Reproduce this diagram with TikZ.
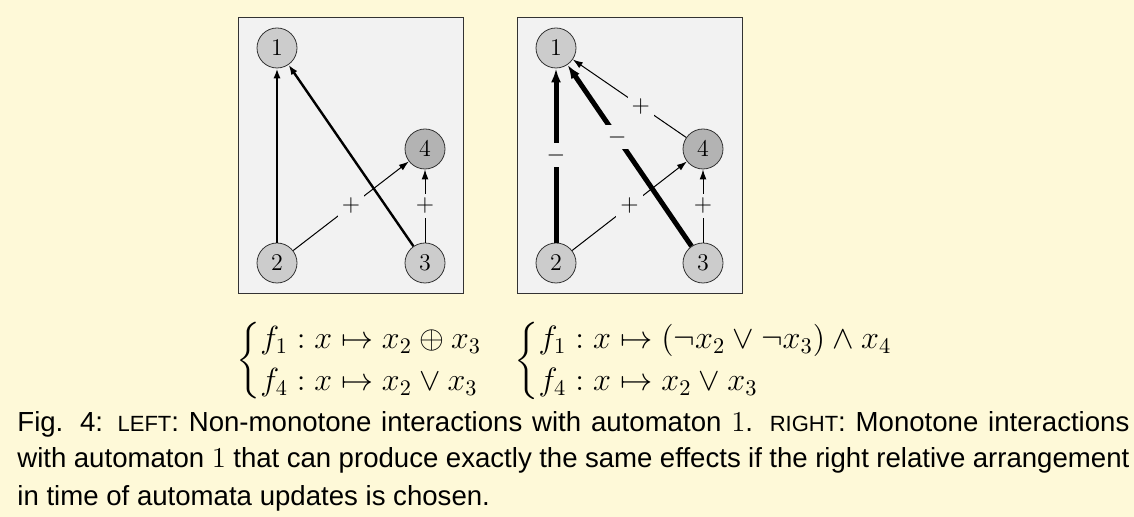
\documentclass[tikz,border=0pt]{standalone}
\usepackage{amsmath}
\usepackage{graphicx}
\usepackage{fontspec}
\setmainfont{Liberation Sans}
\usetikzlibrary{arrows.meta}
\definecolor{PaperYellow}{HTML}{FEF9D8}
\definecolor{BoxGray}{HTML}{F2F2F2}
\definecolor{NodeGray}{HTML}{CCCCCC}
\definecolor{DarkNodeGray}{HTML}{B3B3B3}
\definecolor{FrameGray}{HTML}{333333}
\newcommand{\fakesc}[1]{{\fontsize{11pt}{12pt}\selectfont #1}}

\tikzset{
    automaton/.style={circle, draw=FrameGray, line width=0.4pt, fill=NodeGray, minimum size=20pt, inner sep=0pt, font=\fontsize{12pt}{14pt}\selectfont},
    panel/.style={fill=BoxGray, draw=FrameGray, line width=0.5pt},
    thinedge/.style={line width=0.5pt, -{Latex[length=5pt,width=3.4pt]}},
    midedge/.style={line width=1.2pt, -{Latex[length=5pt,width=3.6pt]}},
    thickedge/.style={line width=2.5pt, -{Latex[length=7pt,width=5pt]}},
    sign/.style={fill=BoxGray, inner sep=2pt, font=\fontsize{12pt}{14pt}\selectfont},
    funcs/.style={anchor=west, inner sep=0pt, font=\fontsize{14.4pt}{15.8pt}\selectfont},
    caption/.style={anchor=base west, inner sep=0pt, font=\fontsize{13.8pt}{16pt}\selectfont}
}

\begin{document}
\begin{tikzpicture}[x=0.5pt, y=-0.5pt]
            \fill[PaperYellow] (0,0) rectangle (1134,517);

            % Left panel
            \draw[panel] (238,18) rectangle (463,294);
            \node[automaton] (l1) at (277,48) {$1$};
            \node[automaton] (l2) at (277,263) {$2$};
            \node[automaton] (l3) at (425,263) {$3$};
            \node[automaton, fill=DarkNodeGray] (l4) at (425,149) {$4$};

            \draw[midedge] (l2) -- (l1);
            \draw[midedge] (l3) -- (l1);
            \draw[thinedge] (l2) -- node[sign] {$+$} (l4);
            \draw[thinedge] (l3) -- node[sign] {$+$} (l4);

            % Right panel
            \draw[panel] (517,18) rectangle (742,294);
            \node[automaton] (r1) at (556,48) {$1$};
            \node[automaton] (r2) at (556,263) {$2$};
            \node[automaton] (r3) at (703,263) {$3$};
            \node[automaton, fill=DarkNodeGray] (r4) at (703,149) {$4$};

            \draw[thickedge] (r2) -- node[sign] {$-$} (r1);
            \draw[thickedge] (r3) -- node[sign, pos=0.6] {$-$} (r1);
            \draw[thinedge] (r4) -- node[sign, pos=0.4] {$+$} (r1);
            \draw[thinedge] (r2) -- node[sign] {$+$} (r4);
            \draw[thinedge] (r3) -- node[sign] {$+$} (r4);

            % Update functions
            \node[funcs] (leftfun) at (236,361)
                {\scalebox{1.11}{$\begin{cases} f_1 : x \mapsto x_2 \oplus x_3\\ f_4 : x \mapsto x_2 \vee x_3\end{cases}$}};
            \node[funcs] (rightfun) at (514,361)
                {\scalebox{1.12}{$\begin{cases} f_1 : x \mapsto (\neg x_2 \vee \neg x_3) \wedge x_4\\ f_4 : x \mapsto x_2 \vee x_3\end{cases}$}};

            % Caption
            \node[caption] (cap1) at (17,432) {\makebox[556pt][s]{Fig. 4: \fakesc{LEFT}: Non-monotone interactions with automaton $1$. \fakesc{RIGHT}: Monotone interactions}};
            \node[caption] (cap2) at (17,468) {\makebox[556pt][s]{with automaton $1$ that can produce exactly the same effects if the right relative arrangement}};
            \node[caption] (cap3) at (17,505) {in time of automata updates is chosen.};
\end{tikzpicture}
\end{document}
